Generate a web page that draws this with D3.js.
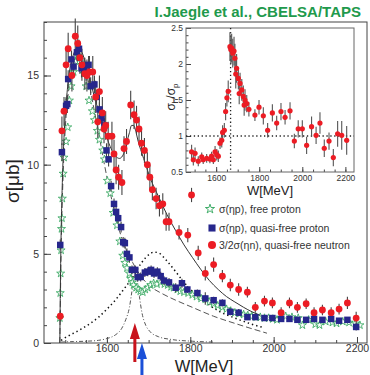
<!DOCTYPE html>
<html>
<head>
<meta charset="utf-8">
<script src="https://cdn.jsdelivr.net/npm/d3@7"></script>
<style>
body { margin: 0; background: #fff; }
svg { display: block; font-family: "Liberation Sans", Arial, sans-serif; }
</style>
</head>
<body>
<div id="chart"></div>
<script>
// free proton (stars)
const freeW = [1487,1488,1489,1490,1491,1492,1493,1495,1497,1502,1506,1510,1514,1520,1525,1530,1535,1540,1545,1550,
  1557,1565,1570,1577,1582,1590,1594,1601,1608,1615,1624,1631,1638,1643,1648,1654,1657,1661,1664,1670,1675,1680,1686,1692,1698,
  1705,1712,1720,1729,1738,1746,1754,1760,1769,1776,1785,1795,1805,
  1815,1826,1836,1846,1856,1866,1877,1887,1897,1907,1917,1928,1938,1948,1958,1968,1978,1988,1998,2008,2018,2029,
  2044,2059,2069,2084,2100,2110,2125,2141,2151,2166,2181,2196,2207];
const freeS = [1.4,2.8,3.9,5.2,6.4,7.0,8.1,9.5,10.4,11.3,12.1,13.6,14.4,15.2,15.8,16.1,16.0,15.6,15.1,14.4,
  13.6,13.0,12.5,11.9,11.4,10.8,10.3,9.1,8.4,7.3,6.6,5.7,4.9,4.5,4.2,3.9,3.6,3.4,3.25,3.1,3.0,2.9,2.85,3.0,3.1,
  3.25,3.35,3.3,3.4,3.3,3.25,3.15,3.1,3.0,2.9,2.85,2.8,2.7,
  2.6,2.5,2.45,2.3,2.2,2.1,2.0,1.9,1.8,1.7,1.65,1.6,1.55,1.5,1.45,1.45,1.4,1.4,1.35,1.3,1.4,1.5,
  1.45,1.4,1.0,1.3,1.05,1.0,1.2,1.15,1.1,1.2,1.15,1.1,1.0];

// quasi-free proton (squares)
const qpW = [1488,1492,1502,1505,1507, 1515,1520,1528,1533,1539, 1545,1550,1556,1561,1570, 1575,1582,1587,1594,1599,
  1604,1610,1617,1622,1627, 1634,1639,1643,1648,1654, 1660,1668,1674,1681,1691, 1698,1706,1713,1721,1729,
  1737,1749,1765,1780,1793, 1817,1836,1856,1877,1896, 1916,1937,1956,1978,1997, 2018,2038,2057,2078,2097,
  2117,2138,2157,2177,2198];
const qpS = [5.5,10.7,13.3,13.4,14.8, 15.9,15.5,16.3,16.5,15.4, 15.5,15.2,15.6,14.4,14.5, 13.8,13.1,12.6,12.2,10.8,
  10.3,8.8,7.8,7.35,7.0, 6.5,5.65,5.6,5.0,4.8, 4.1,4.1,3.7,3.7,3.95, 4.0,4.1,3.9,4.0,3.75,
  3.5,3.4,3.1,3.35,3.0, 2.8,2.5,2.4,2.25,1.75, 1.7,1.45,1.45,1.4,1.4, 1.35,1.35,1.3,1.3,1.35,
  1.3,1.35,1.25,1.3,0.9];
const qpE = [0.3,0.5,0.5,0.5,0.5, 0.5,0.5,0.5,0.5,0.5, 0.5,0.5,0.5,0.5,0.5, 0.4,0.4,0.4,0.4,0.4,
  0.4,0.3,0.3,0.3,0.3, 0.3,0.3,0.3,0.3,0.3, 0.25,0.25,0.25,0.25,0.25, 0.25,0.25,0.25,0.25,0.25,
  0.25,0.25,0.25,0.25,0.2, 0.2,0.35,0.2,0.2,0.2, 0.2,0.15,0.15,0.15,0.15, 0.15,0.15,0.15,0.15,0.15,
  0.15,0.15,0.15,0.15,0.2];

// quasi-free neutron x 3/2 (circles)
const qnW = [1488,1492,1497,1502,1507, 1516,1524,1530,1535,1540, 1547,1552,1558,1566,1573, 1578,1582,1589,1593,1597,
  1603,1612,1617,1622,1628, 1636,1641,1647,1657,1665, 1671,1677,1683,1690,1697, 1703,1709,1718,1726,1734,
  1742,1749,1773,1794,1803, 1819,1836,1856,1877,1896, 1916,1937,1956,1978,1997, 2018,2038,2057,2078,2097,
  2117,2138,2157,2177,2198];
const qnS = [1.5,11.9,13.0,15.6,16.5, 15.0,17.2,16.8,16.0,15.6, 15.1,15.0,15.2,15.2,13.8, 12.4,14.1,12.9,12.0,12.2,
  11.6,11.6,10.6,9.7,9.3, 9.0,10.9,11.3,13.35,12.8, 12.5,12.0,11.2,10.8,10.0, 9.3,8.6,8.1,7.7,7.8,
  6.8,6.8,6.2,6.05,8.3, 5.05,3.9,4.4,3.75,3.25, 3.0,2.85,2.0,2.35,2.25, 1.7,2.25,2.0,2.2,1.7,
  1.85,1.7,1.9,2.25,1.4];
const qnE = [0.3,0.8,0.8,0.9,0.9, 0.9,1.0,1.0,0.9,0.9, 0.9,0.9,0.9,0.9,0.9, 0.9,0.9,0.9,0.8,0.8,
  0.8,0.8,0.8,0.8,0.7, 0.7,0.7,0.7,0.8,0.8, 0.8,0.7,0.7,0.7,0.7, 0.7,0.6,0.6,0.6,0.6,
  0.5,0.5,0.4,0.4,0.4, 0.4,0.4,0.4,0.35,0.35, 0.35,0.3,0.3,0.3,0.3, 0.3,0.3,0.3,0.3,0.3,
  0.3,0.3,0.3,0.35,0.35];

// fit curves
const solidW = [1487,1488,1490,1493,1496, 1500,1505,1510,1520,1530, 1540,1550,1560,1570,1580, 1590,1600,1610,1620,1630,
  1640,1647,1654,1659,1664, 1670,1675,1683,1693,1703, 1724,1744,1765,1785,1805, 1826,1846,1867,1887,1907, 1928,1948,1968];
const solidS = [0,2.5,6,9,11, 12.8,14.2,15.2,16.2,16.6, 16.3,15.6,14.7,13.8,13.0, 12.2,11.5,10.9,10.5,10.35,
  10.6,11.2,11.8,12.2,12.2, 11.8,11.3,10.7,10.0,9.3, 8.2,7.2,6.3,5.5,4.8, 4.1,3.5,3.0,2.6,2.3, 2.0,1.75,1.55];
const dashW = [1487,1490,1495,1500,1510, 1520,1530,1540,1550,1560, 1570,1580,1590,1600,1610, 1620,1630,1640,1662,1683,
  1703,1734,1765,1805,1856, 1907,1948,1984];
const dashS = [0,5,9.5,12,14.5, 15.7,16.1,15.9,15.2,14.2, 13.0,11.8,10.5,9.3,8.2, 7.2,6.3,5.6,4.5,3.7,
  3.2,2.75,2.4,2.0,1.5, 1.1,0.8,0.55];
const dotW = [1490,1500,1520,1540,1560, 1580,1600,1620,1640,1662, 1683,1703,1713,1724,1744, 1765,1785,1805,1836,1867, 1907,1948,1978];
const dotS = [0.15,0.3,0.55,0.8,1.1, 1.45,1.9,2.4,3.0,3.7, 4.5,5.0,5.1,5.05,4.6, 4.0,3.4,2.9,2.3,1.8, 1.4,1.05,0.85];
const ddW = [1490,1520,1550,1580,1600, 1620,1635,1645,1654,1660, 1665,1669,1673,1678,1684, 1693,1703,1724,1754,1805, 1856];
const ddS = [0.05,0.08,0.1,0.15,0.25, 0.45,0.8,1.3,2.0,2.9, 3.6,3.9,3.5,2.6,1.7, 1.0,0.65,0.35,0.2,0.1, 0.05];

// inset: ratio sigma_n / sigma_p
const rW = [1486,1494,1502,1517,1533, 1540,1556,1571,1579,1587, 1595,1603,1610,1618,1626, 1630,1638,1644,1650,1656,
  1664,1668,1672,1677,1683, 1687,1691,1695,1703,1707, 1711,1719,1726,1730,1734, 1742,1752,1780,1799,1819,
  1839,1861,1881,1901,1920, 1943,1963,1981,2000,2020, 2043,2064,2082,2102,2124, 2144,2164,2183,2206];
const rR = [0.78,0.67,0.76,0.65,0.71, 0.67,0.69,0.68,0.72,0.67, 0.78,0.74,0.72,0.90,0.94, 1.05,1.08,1.34,1.53,1.62,
  2.24,2.2,2.22,2.15,2.18, 2.08,1.86,1.94,1.80,1.59, 1.73,1.64,1.55,1.43,1.50, 1.45,1.37,1.29,1.40,1.28,
  1.08,1.32,1.18,1.34,1.26, 1.35,0.93,1.10,1.10,0.87, 1.13,1.01,1.18,0.83,0.93, 0.70,1.03,1.01,0.94];
const rE = [0.1,0.08,0.08,0.07,0.06, 0.06,0.06,0.06,0.06,0.06, 0.08,0.08,0.08,0.08,0.1, 0.1,0.1,0.12,0.12,0.15,
  0.2,0.2,0.2,0.2,0.2, 0.2,0.2,0.2,0.15,0.15, 0.15,0.15,0.15,0.15,0.15, 0.12,0.1,0.08,0.1,0.12,
  0.1,0.12,0.1,0.12,0.1, 0.12,0.1,0.12,0.12,0.12, 0.14,0.12,0.15,0.12,0.12, 0.12,0.18,0.2,0.2];

const xTicks = [1600, 1800, 2000, 2200];
const yTicks = [0, 5, 10, 15];
const ixTicks = [1600, 1800, 2000, 2200];
const iyTicks = [0.5, 1, 1.5, 2, 2.5];
const ixTickLabels = ["1600", "1800", "2000", "2200"];
const iyTickLabels = ["0.5", "1", "1.5", "2", "2.5"];
const arrowW = [1667, 1684];
const legendLabels = ["\u03c3(\u03b7p), free proton", "\u03c3(\u03b7p), quasi-free proton", "3/2\u03c3(\u03b7n), quasi-free neutron"];

const RED = "#ec1c24", BLUE = "#26268c", GREEN = "#2ea55a";

const svg = d3.select("#chart").append("svg")
    .attr("width", 370)
    .attr("height", 375);

const x = d3.scaleLinear().domain([1449, 2224]).range([44, 367]);
const y = d3.scaleLinear().domain([0, 18]).range([343, 22]);

// axes, ticks pointing inward
function styleAxis(g, size) {
    g.select(".domain").remove();
    g.selectAll(".tick line").attr("stroke", "#444");
    g.selectAll(".tick text").attr("fill", "#333").attr("font-size", size);
}
svg.append("g").attr("transform", "translate(0,343)")
    .call(d3.axisBottom(x).tickValues(d3.range(1500, 2201, 50)).tickSize(-3).tickFormat(""))
    .call(g => styleAxis(g, 10.5));
svg.append("g").attr("transform", "translate(0,343)")
    .call(d3.axisBottom(x).tickValues(xTicks).tickSize(-6).tickPadding(2).tickFormat(d3.format("d")))
    .call(g => styleAxis(g, 10.5));
svg.append("g").attr("transform", "translate(44,0)")
    .call(d3.axisLeft(y).tickValues(d3.range(0, 18.01, 1)).tickSize(-3).tickFormat(""))
    .call(g => styleAxis(g, 10.5));
svg.append("g").attr("transform", "translate(44,0)")
    .call(d3.axisLeft(y).tickValues(yTicks).tickSize(-7).tickPadding(5))
    .call(g => styleAxis(g, 10.5));

svg.append("rect")
    .attr("x", 44).attr("y", 22).attr("width", 323).attr("height", 321)
    .attr("fill", "none").attr("stroke", "#444").attr("stroke-width", 1);

// axis titles
svg.append("text")
    .attr("x", 204).attr("y", 372)
    .attr("text-anchor", "middle")
    .attr("font-size", 16.5).attr("fill", "#222")
    .text("W[MeV]");
svg.append("text")
    .attr("transform", "translate(19,181) rotate(-90)")
    .attr("text-anchor", "middle")
    .attr("font-size", 19).attr("fill", "#222")
    .text("\u03c3[\u03bcb]");

// title
svg.append("text")
    .attr("x", 361).attr("y", 17)
    .attr("text-anchor", "end")
    .attr("font-size", 15).attr("font-weight", "bold")
    .attr("fill", "#1f9a4c")
    .text("I.Jaegle et al., CBELSA/TAPS");

// model curves
const line = d3.line().x(d => x(d[0])).y(d => y(d[1])).curve(d3.curveMonotoneX);
svg.append("path").datum(d3.zip(ddW, ddS)).attr("d", line)
    .attr("fill", "none").attr("stroke", "#555").attr("stroke-width", 1).attr("stroke-dasharray", "4,2,1,2");
svg.append("path").datum(d3.zip(dotW, dotS)).attr("d", line)
    .attr("fill", "none").attr("stroke", "#111").attr("stroke-width", 1.5).attr("stroke-dasharray", "1.4,3");
svg.append("path").datum(d3.zip(dashW, dashS)).attr("d", line)
    .attr("fill", "none").attr("stroke", "#555").attr("stroke-width", 1).attr("stroke-dasharray", "6,3");

// free proton stars
svg.append("g").selectAll("path")
    .data(d3.zip(freeW, freeS))
    .join("path")
    .attr("transform", d => `translate(${x(d[0])},${y(d[1])})`)
    .attr("d", d3.symbol(d3.symbolStar, 20))
    .attr("fill", "#fff").attr("stroke", GREEN).attr("stroke-width", 0.8);

svg.append("path").datum(d3.zip(solidW, solidS)).attr("d", line)
    .attr("fill", "none").attr("stroke", "#333").attr("stroke-width", 1);

// error bars
function errBars(g, W, S, E, xs, ys, color) {
    g.append("g").selectAll("line")
        .data(d3.zip(W, S, E))
        .join("line")
        .attr("x1", d => xs(d[0])).attr("x2", d => xs(d[0]))
        .attr("y1", d => ys(d[1] - d[2])).attr("y2", d => ys(d[1] + d[2]))
        .attr("stroke", color).attr("stroke-width", 1.1);
}
errBars(svg, qpW, qpS, qpE, x, y, "#444");
errBars(svg, qnW, qnS, qnE, x, y, "#444");

svg.append("g").selectAll("path")
    .data(d3.zip(qpW, qpS))
    .join("path")
    .attr("transform", d => `translate(${x(d[0])},${y(d[1])})`)
    .attr("d", d3.symbol(d3.symbolSquare, 42))
    .attr("fill", BLUE);

svg.append("g").selectAll("circle")
    .data(d3.zip(qnW, qnS))
    .join("circle")
    .attr("cx", d => x(d[0])).attr("cy", d => y(d[1]))
    .attr("r", 3.4)
    .attr("fill", RED);

// arrows below the axis
function arrow(cx, tip, base, tail, color) {
    svg.append("path")
        .attr("d", `M${cx},${tip} L${cx + 5},${base} L${cx + 1.5},${base} L${cx + 1.5},${tail} L${cx - 1.5},${tail} L${cx - 1.5},${base} L${cx - 5},${base} Z`)
        .attr("fill", color);
}
arrow(x(arrowW[0]), 323, 339, 362, "#c8121c");
arrow(x(arrowW[1]), 343, 359, 376, "#1b50d8");

// legend
const legendY = [209, 228, 245];
const leg = svg.append("g");
leg.append("path").attr("transform", `translate(210,${legendY[0]})`)
    .attr("d", d3.symbol(d3.symbolStar, 26)).attr("fill", "#fff").attr("stroke", GREEN).attr("stroke-width", 0.9);
leg.append("path").attr("transform", `translate(212,${legendY[1]})`)
    .attr("d", d3.symbol(d3.symbolSquare, 50)).attr("fill", BLUE);
leg.append("circle").attr("cx", 212).attr("cy", legendY[2]).attr("r", 4).attr("fill", RED);
leg.selectAll("text")
    .data(legendLabels)
    .join("text")
    .attr("x", 219).attr("y", (d, i) => legendY[i] + 4)
    .attr("font-size", 10.5).attr("fill", "#333")
    .text(d => d);

// inset
const xi = d3.scaleLinear().domain([1460, 2240]).range([186, 354]);
const yi = d3.scaleLinear().domain([0.5, 2.5]).range([172, 28]);
const inset = svg.append("g");
inset.append("rect")
    .attr("x", 186).attr("y", 28).attr("width", 168).attr("height", 144)
    .attr("fill", "#fff");
inset.append("g").attr("transform", "translate(0,172)")
    .call(d3.axisBottom(xi).tickValues(d3.range(1500, 2201, 50)).tickSize(-2.5).tickFormat(""))
    .call(g => styleAxis(g, 8.5));
inset.append("g").attr("transform", "translate(0,172)")
    .call(d3.axisBottom(xi).tickValues(ixTicks).tickSize(-5).tickPadding(3).tickFormat((d, i) => ixTickLabels[i]))
    .call(g => styleAxis(g, 8.5));
inset.append("g").attr("transform", "translate(186,0)")
    .call(d3.axisLeft(yi).tickValues(d3.range(0.5, 2.51, 0.1)).tickSize(-2.5).tickFormat(""))
    .call(g => styleAxis(g, 8.5));
inset.append("g").attr("transform", "translate(186,0)")
    .call(d3.axisLeft(yi).tickValues(iyTicks).tickSize(-5).tickPadding(3).tickFormat((d, i) => iyTickLabels[i]))
    .call(g => styleAxis(g, 8.5));
inset.append("rect")
    .attr("x", 186).attr("y", 28).attr("width", 168).attr("height", 144)
    .attr("fill", "none").attr("stroke", "#666").attr("stroke-width", 1);

inset.append("line")
    .attr("x1", 186).attr("x2", 354).attr("y1", yi(1)).attr("y2", yi(1))
    .attr("stroke", "#222").attr("stroke-width", 1.3).attr("stroke-dasharray", "1.3,2.6");
inset.append("line")
    .attr("x1", xi(1667)).attr("x2", xi(1667)).attr("y1", 28).attr("y2", 172)
    .attr("stroke", "#222").attr("stroke-width", 1.3).attr("stroke-dasharray", "1.3,2.6");

errBars(inset, rW, rR, rE, xi, yi, "#555");
inset.append("g").selectAll("circle")
    .data(d3.zip(rW, rR))
    .join("circle")
    .attr("cx", d => xi(d[0])).attr("cy", d => yi(d[1]))
    .attr("r", 2.6)
    .attr("fill", RED);

inset.append("text")
    .attr("x", 270).attr("y", 195)
    .attr("text-anchor", "middle")
    .attr("font-size", 13).attr("fill", "#222")
    .text("W[MeV]");
const yl = inset.append("text")
    .attr("transform", "translate(175,97) rotate(-90)")
    .attr("text-anchor", "middle")
    .attr("font-size", 12).attr("fill", "#222");
yl.append("tspan").text("\u03c3");
yl.append("tspan").attr("font-size", 8).attr("dy", 3).text("n");
yl.append("tspan").attr("dy", -3).text("/\u03c3");
yl.append("tspan").attr("font-size", 8).attr("dy", 3).text("p");
</script>
</body>
</html>
